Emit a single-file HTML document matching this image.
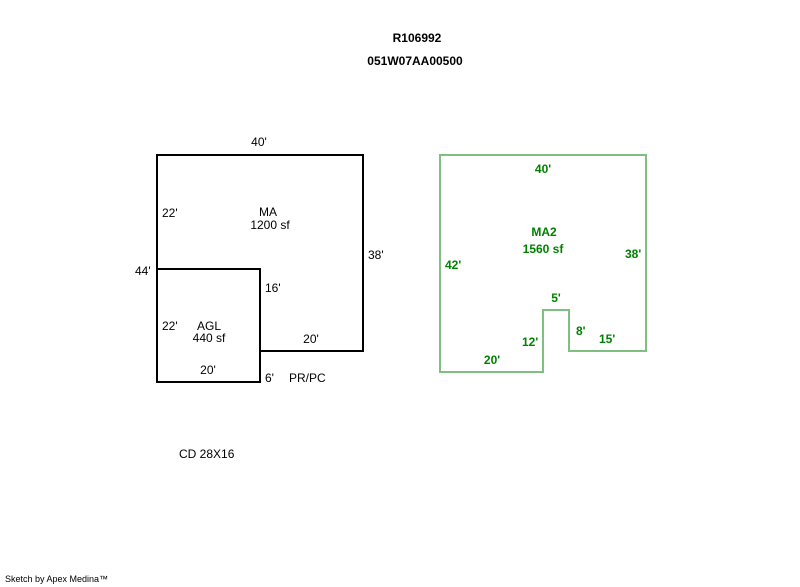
<!DOCTYPE html>
<html><head><style>
html,body{margin:0;padding:0;background:#fff;}
svg{display:block;}
text{font-family:"Liberation Sans",Arial,sans-serif;font-size:12px;}
.b{font-weight:bold;}
.g{fill:#008000;font-weight:bold;}
</style></head><body>
<svg width="800" height="587" viewBox="0 0 800 587" xmlns="http://www.w3.org/2000/svg">
<text x="417" y="42" text-anchor="middle" class="b">R106992</text>
<text x="415" y="65" text-anchor="middle" class="b">051W07AA00500</text>

<rect x="157" y="155" width="206" height="196" fill="none" stroke="#000" stroke-width="2"/>
<rect x="157" y="269" width="103" height="113" fill="#fff" stroke="#000" stroke-width="2"/>
<text x="259" y="146" text-anchor="middle">40'</text>
<text x="162" y="217">22'</text>
<text x="268" y="216" text-anchor="middle">MA</text>
<text x="270" y="229" text-anchor="middle">1200 sf</text>
<text x="368" y="259">38'</text>
<text x="135" y="275">44'</text>
<text x="265" y="292">16'</text>
<text x="162" y="330">22'</text>
<text x="209" y="330" text-anchor="middle">AGL</text>
<text x="209" y="342" text-anchor="middle">440 sf</text>
<text x="311" y="343" text-anchor="middle">20'</text>
<text x="208" y="374" text-anchor="middle">20'</text>
<text x="265" y="382">6'</text>
<text x="289" y="382">PR/PC</text>
<text x="179" y="458">CD 28X16</text>

<polygon points="440,155 646,155 646,351 569,351 569,310 543,310 543,372 440,372" fill="none" stroke="#7fbf7f" stroke-width="2"/>
<text x="543" y="173" text-anchor="middle" class="g">40'</text>
<text x="544" y="236" text-anchor="middle" class="g">MA2</text>
<text x="543" y="253" text-anchor="middle" class="g">1560 sf</text>
<text x="445" y="269" class="g">42'</text>
<text x="625" y="258" class="g">38'</text>
<text x="556" y="302" text-anchor="middle" class="g">5'</text>
<text x="576" y="335" class="g">8'</text>
<text x="522" y="346" class="g">12'</text>
<text x="599" y="343" class="g">15'</text>
<text x="492" y="364" text-anchor="middle" class="g">20'</text>

<text x="5" y="582" style="font-size:9px">Sketch by Apex Medina™</text>
</svg>
</body></html>
